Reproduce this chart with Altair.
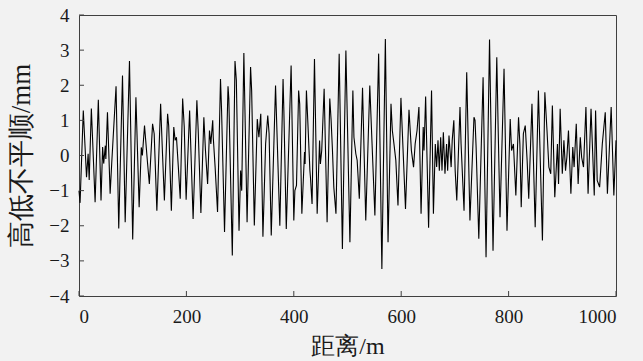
import altair as alt
import pandas as pd

# Vertical track irregularity profile, read in 200 m stretches
dist_0 = [0, 2, 8, 14, 17, 19, 23, 30, 36, 41, 44, 46, 49, 50, 53, 58, 61, 69, 74, 81,
          86, 94, 100, 106, 112, 116, 118, 122, 127.5, 131, 137, 140, 145, 152, 155.5,
          159, 165, 167, 172, 176.5, 179, 181.5, 185, 188.5, 193, 196, 199.5]
level_0 = [-1.0, -1.35, 1.28, -0.62, 0.05, -0.7, 1.34, -1.33, 1.59, -1.28, 0.24, -0.23,
           0.28, -0.1, 1.23, -1.09, -0.2, 1.97, -2.08, 2.28, -1.9, 2.69, -2.39, 1.66,
           -1.47, 0.23, 0.0, 0.85, -0.19, -0.81, 0.9, 0.62, -1.57, 1.47, 0.05, -1.28,
           1.19, 0.85, -1.57, 0.81, 0.43, 0.52, -0.33, -1.23, 1.62, 0.81, -1.26]

dist_1 = [206, 212.5, 219.5, 222, 227, 232.5, 235.5, 239.5, 243, 245.5, 249, 250, 253.5,
          258, 263.5, 265.5, 271, 277.5, 279, 285.5, 290.5, 293, 298, 301, 303, 307, 313,
          319.5, 321.5, 326.5, 332, 335, 338.5, 342.5, 347.5, 351.5, 354, 358, 366, 374,
          380, 381.5, 386, 395, 400]
level_1 = [1.28, -1.81, 1.57, 0.71, -1.64, 1.09, 0.14, -0.81, 0.71, 0.33, 1.0, 0.52,
           -0.33, -1.61, 2.18, 1.28, -2.18, 1.97, 1.62, -2.85, 2.69, 2.14, -2.14, -0.43,
           -1.0, 2.92, -1.9, 2.52, 1.85, -1.99, 1.04, 0.52, 1.19, -2.31, 0.33, 1.14, 0.62,
           -2.28, 1.99, -2.0, 2.18, 1.28, -2.09, 2.56, -1.85]

dist_2 = [402, 405, 409, 411, 415, 420, 421, 423.5, 426, 430, 431, 434, 438.5, 443.5,
          448, 449.5, 452, 456.5, 462, 467, 469.5, 472, 474.5, 478.5, 484.5, 490.5, 497,
          504.5, 510, 512, 515.5, 518, 522, 528, 534, 541.5, 544, 551, 558, 564, 570.5,
          575.5, 581, 583.5, 586.5, 590, 594, 599.5]
level_2 = [-1.0, -0.85, 1.85, 1.47, -1.66, 0.1, -0.24, 1.85, 1.0, -0.43, -0.62, -1.38,
           2.75, -1.66, 0.43, -0.24, 0.14, 1.9, -1.9, 1.62, 1.0, 0.14, -0.9, -1.66, 2.9,
           -2.66, 2.99, -2.47, 1.85, 0.52, 0.05, -0.14, -1.23, 1.93, -1.85, 1.99, 1.0,
           -1.71, 2.9, -3.23, 3.32, -2.47, 1.47, 0.71, 0.33, -0.14, -1.42, 1.64]

dist_3 = [602.5, 608, 614.5, 619, 623, 626, 629.5, 633, 637, 641, 642.5, 645.5, 651,
          656.5, 660, 663.5, 666, 668.5, 671, 673.5, 676, 678.5, 681.5, 684.5, 686.5, 689,
          693, 695, 698, 700.5, 703.5, 709.5, 711.5, 717, 722, 728, 735.5, 737.5, 739.5,
          744.5, 752.5, 758, 764.5, 771, 778, 780.5, 784, 791.5, 797]
level_3 = [0.52, -1.52, 1.3, 0.14, -0.33, 0.33, 0.71, 1.38, -1.66, 0.81, 0.14, 1.68,
           -2.06, 1.85, -1.66, 0.33, -0.33, 0.43, -0.43, 0.52, -0.43, 0.66, -0.52, 0.33,
           -0.43, 0.57, -0.33, 0.43, 1.0, -0.43, -1.28, 1.38, 0.33, -1.57, 2.37, -1.85,
           1.09, 1.0, 0.24, -2.37, 2.23, -2.9, 3.3, -2.71, 2.8, 0.81, -1.76, 2.47, -2.14]

dist_4 = [803, 805.5, 809, 813.5, 818.5, 821, 823.5, 827.5, 831, 834.5, 837.5, 843.5,
          849.5, 855.5, 863, 867.5, 871.5, 875, 878.5, 881.5, 886, 891, 893, 896, 900, 903,
          906, 908.5, 911.5, 916, 919.5, 922, 926, 929.5, 933.5, 936, 939.5, 944, 948,
          953.5, 959.5, 962, 965, 969.5, 974.5, 980, 984, 991, 996, 1000]
level_4 = [1.04, 0.14, 0.33, -1.14, 1.09, 0.33, -1.47, 0.62, 0.85, -0.14, -1.23, 1.47,
           -2.04, 1.85, -2.42, 1.8, 0.71, -0.33, -0.52, 1.42, -1.19, 0.33, -0.81, 1.33,
           -0.52, 0.43, -0.43, -0.05, 0.71, -1.09, 0.24, -0.33, 0.9, -0.81, 0.52, -0.05,
           -0.33, 1.38, -1.09, 1.33, -1.14, 1.28, -0.71, -0.9, 0.33, 1.23, -1.09, 1.38,
           -1.14, 0.43]

x_ticks = [0, 200, 400, 600, 800, 1000]
y_ticks = [-4, -3, -2, -1, 0, 1, 2, 3, 4]

dists = dist_0 + dist_1 + dist_2 + dist_3 + dist_4
levels = level_0 + level_1 + level_2 + level_3 + level_4
assert len(dists) == len(levels)
profile = pd.DataFrame({"d": dists, "v": levels})

W, H = 537, 281
FRAME = "#404040"
TEXT = "#1a1a1a"
NUM_FONT = "Liberation Serif"
TITLE_FONT = "Liberation Serif"


def make_axis(ticks, title, label_pad, title_size, title_pad):
    return alt.Axis(
        values=ticks, format="d", title=title,
        ticks=False, domain=False, grid=False,
        labelFont=NUM_FONT, labelFontSize=19, labelColor=TEXT,
        labelPadding=label_pad,
        titleFont=TITLE_FONT, titleFontSize=title_size, titleFontWeight="normal",
        titleColor=TEXT, titlePadding=title_pad,
    )


x_scale = alt.Scale(domain=[0, 1000], nice=False, zero=False)
y_scale = alt.Scale(domain=[-4, 4], nice=False, zero=False)
x_axis = make_axis(x_ticks, "距离/m", 11, 24, 8)
y_axis = make_axis(y_ticks, "高低不平顺/mm", 10, 27, 13)

line = alt.Chart(profile).mark_line(color="black", strokeWidth=1.1).encode(
    x=alt.X("d:Q", scale=x_scale, axis=x_axis),
    y=alt.Y("v:Q", scale=y_scale, axis=y_axis),
)

# inward-pointing tick marks on the bottom and left frame edges
x_tick_marks = alt.Chart(pd.DataFrame({"t": x_ticks})).mark_rule(
    color=FRAME, strokeWidth=1
).encode(
    x=alt.X("t:Q", scale=x_scale, axis=x_axis),
    y=alt.value(H),
    y2=alt.value(H - 5),
)
y_tick_marks = alt.Chart(pd.DataFrame({"t": y_ticks})).mark_rule(
    color=FRAME, strokeWidth=1
).encode(
    y=alt.Y("t:Q", scale=y_scale, axis=y_axis),
    x=alt.value(0),
    x2=alt.value(5),
)

chart = alt.layer(line, x_tick_marks, y_tick_marks).properties(
    width=W,
    height=H,
    padding={"left": 79, "top": 15, "right": 27, "bottom": 65},
    autosize=alt.AutoSizeParams(type="none"),
    background="#f2f2f2",
).configure(
    font="Liberation Serif",
).configure_view(
    stroke=FRAME, strokeWidth=1
)

chart.save("out.html", embed_options={"renderer": "svg", "actions": False})
